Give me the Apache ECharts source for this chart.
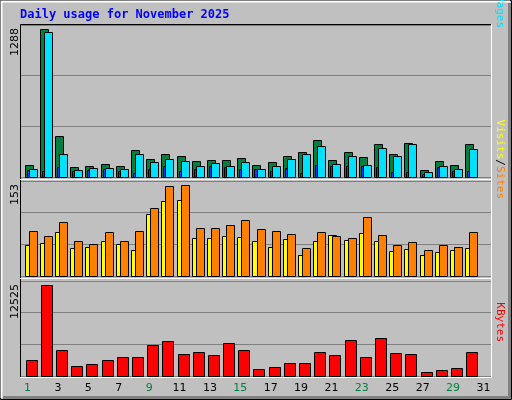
<!DOCTYPE html>
<html>
<head>
<meta charset="utf-8">
<script src="https://cdn.jsdelivr.net/npm/echarts@6/dist/echarts.min.js"></script>
<style>html,body{margin:0;padding:0;background:#c0c0c0}#c{width:512px;height:400px}</style>
</head>
<body>
<div id="c"></div>
<script>
const days = ['1','2','3','4','5','6','7','8','9','10','11','12','13','14','15','16','17','18','19','20','21','22','23','24','25','26','27','28','29','30','31'];
const weekend = ['1','2','8','9','15','16','22','23','29','30'];
const hits = [108,1288,361,90,99,117,99,239,160,204,186,143,152,152,169,108,134,186,221,318,152,221,178,291,204,300,64,143,108,283,0];
const files = [73,1262,204,64,82,82,73,204,134,160,143,99,125,99,134,73,99,160,204,274,117,186,108,256,186,283,47,99,73,248,0];
const pages = [64,55,90,55,64,73,55,38,73,99,55,73,99,90,73,73,55,82,38,108,99,99,99,90,47,47,29,90,55,55,0];
const visits = [76,67,91,58,53,73,58,75,113,151,153,80,81,85,93,78,76,70,47,73,67,63,98,68,52,57,43,52,48,73,0];
const sites = [52,55,73,47,48,58,53,43,103,126,128,63,63,67,65,58,48,62,35,58,68,60,72,58,42,45,35,40,43,47,0];
const kbytes = [2240,12525,3611,1417,1691,2240,2651,2651,4297,4845,3063,3337,2926,4571,3611,1006,1280,1828,1828,3337,2926,4982,2651,5257,3200,3063,594,869,1143,3337,0];

const chart = echarts.init(document.getElementById('c'));

const panels = [
  { top: 25, bottom: 177, max: 1323 },
  { top: 181, bottom: 276, max: 159 },
  { top: 281, bottom: 376, max: 13028 }
];

function barSeries(name, data, gi, color, dx, w) {
  return {
    name: name, type: 'custom', xAxisIndex: gi, yAxisIndex: gi,
    data: data.map((v, i) => [i, v]),
    renderItem: function (params, api) {
      const v = api.value(1);
      if (!v) return null;
      const p = api.coord([api.value(0), v]);
      const b = api.coord([api.value(0), 0]);
      return {
        type: 'rect',
        shape: { x: Math.round(p[0] + dx) + 0.5, y: Math.round(p[1]) + 0.5, width: w, height: Math.round(b[1] - p[1]) },
        style: { fill: color, stroke: '#000', lineWidth: 1 }
      };
    }
  };
}

const grids = panels.map(p => ({ left: 20, right: 21, top: p.top, height: p.bottom - p.top }));
const xAxes = panels.map((p, i) => ({
  type: 'category', gridIndex: i, data: days,
  axisLine: { show: false }, axisTick: { show: false },
  axisLabel: i === 2 ? {
    show: true, margin: 7, fontFamily: 'DejaVu Sans', fontSize: 11,
    color: function (v) { return weekend.indexOf(v) >= 0 ? '#008040' : '#000'; }
  } : { show: false }
}));
const yAxes = panels.map((p, i) => ({
  type: 'value', gridIndex: i, min: 0, max: p.max, interval: p.max / 3,
  axisLine: { show: false }, axisTick: { show: false }, axisLabel: { show: false },
  splitLine: { show: true, lineStyle: { color: '#808080', width: 1 } }
}));

function vtext(x, y, rich, text, extra) {
  return Object.assign({
    type: 'text', x: x, y: y, rotation: Math.PI / 2,
    style: { text: text, rich: rich, fontFamily: 'DejaVu Sans Mono', fontSize: 11, align: 'right', verticalAlign: 'middle', fill: '#000' }
  }, extra || {});
}

const graphics = [
  { type: 'rect', shape: { x: 0.5, y: 0.5, width: 511, height: 399 }, style: { fill: 'none', stroke: '#000', lineWidth: 1 } },
  { type: 'polyline', shape: { points: [[1.5, 398], [1.5, 1.5], [510, 1.5]] }, style: { stroke: '#fff', lineWidth: 2, fill: 'none' } },
  { type: 'polyline', shape: { points: [[3, 397.5], [509.5, 397.5], [509.5, 3]] }, style: { stroke: '#808080', lineWidth: 3, fill: 'none' } },
  { type: 'text', x: 20, y: 9, style: { text: 'Daily usage for November 2025', fontFamily: 'DejaVu Sans Mono', fontWeight: 'bold', fontSize: 12, fill: '#0000ff' } },
  // plot frame
  { type: 'polyline', shape: { points: [[20.5, 377], [20.5, 24.5], [491, 24.5]] }, style: { stroke: '#000', lineWidth: 1, fill: 'none' }, z: 10 },
  { type: 'polyline', shape: { points: [[20.5, 377.5], [491.5, 377.5], [491.5, 24.5]] }, style: { stroke: '#fff', lineWidth: 1, fill: 'none' }, z: 10 },
  { type: 'line', shape: { x1: 20, y1: 179.5, x2: 491, y2: 179.5 }, style: { stroke: '#fff', lineWidth: 1 }, z: 10 },
  { type: 'line', shape: { x1: 20, y1: 278.5, x2: 491, y2: 278.5 }, style: { stroke: '#fff', lineWidth: 1 }, z: 10 },
  // y labels
  vtext(15, 28, {}, '1288', { style: { text: '1288', fontFamily: 'DejaVu Sans', fontSize: 11, align: 'right', verticalAlign: 'middle', fill: '#000' } }),
  vtext(15, 184, {}, '153', { style: { text: '153', fontFamily: 'DejaVu Sans', fontSize: 11, align: 'right', verticalAlign: 'middle', fill: '#000' } }),
  vtext(15, 284, {}, '12525', { style: { text: '12525', fontFamily: 'DejaVu Sans', fontSize: 11, align: 'right', verticalAlign: 'middle', fill: '#000' } }),
  // right legends
  { type: 'text', x: 500, y: 28, rotation: -Math.PI / 2, style: { text: '{h|Hits}{s|/}{f|Files}{s|/}{p|Pages}', align: 'right', verticalAlign: 'middle', fontFamily: 'DejaVu Sans Mono', fontSize: 11,
      rich: { h: { fill: '#008040', fontFamily: 'DejaVu Sans Mono', fontSize: 11 }, f: { fill: '#0040ff', fontFamily: 'DejaVu Sans Mono', fontSize: 11 }, p: { fill: '#00e0ff', fontFamily: 'DejaVu Sans Mono', fontSize: 11 }, s: { fill: '#000', fontFamily: 'DejaVu Sans Mono', fontSize: 11 } } } },
  { type: 'text', x: 500, y: 199, rotation: -Math.PI / 2, style: { text: '{v|Visits}{s|/}{t|Sites}', align: 'right', verticalAlign: 'middle', fontFamily: 'DejaVu Sans Mono', fontSize: 11,
      rich: { v: { fill: '#ffff00', fontFamily: 'DejaVu Sans Mono', fontSize: 11 }, t: { fill: '#ff8000', fontFamily: 'DejaVu Sans Mono', fontSize: 11 }, s: { fill: '#000', fontFamily: 'DejaVu Sans Mono', fontSize: 11 } } } },
  { type: 'text', x: 500, y: 342, rotation: -Math.PI / 2, style: { text: 'KBytes', align: 'right', verticalAlign: 'middle', fontFamily: 'DejaVu Sans Mono', fontSize: 11, fill: '#ff0000' } }
];

chart.setOption({
  backgroundColor: '#c0c0c0',
  animation: false,
  grid: grids,
  xAxis: xAxes,
  yAxis: yAxes,
  graphic: graphics,
  series: [
    barSeries('Hits', hits, 0, '#008040', -3, 8),
    barSeries('Pages', pages, 0, '#0040ff', -1, 3),
    barSeries('Files', files, 0, '#00e0ff', 1, 8),
    barSeries('Sites', sites, 1, '#ffff00', -3, 8),
    barSeries('Visits', visits, 1, '#ff8000', 1, 8),
    barSeries('KBytes', kbytes, 2, '#ff0000', -2, 11)
  ]
});
</script>
</body>
</html>
